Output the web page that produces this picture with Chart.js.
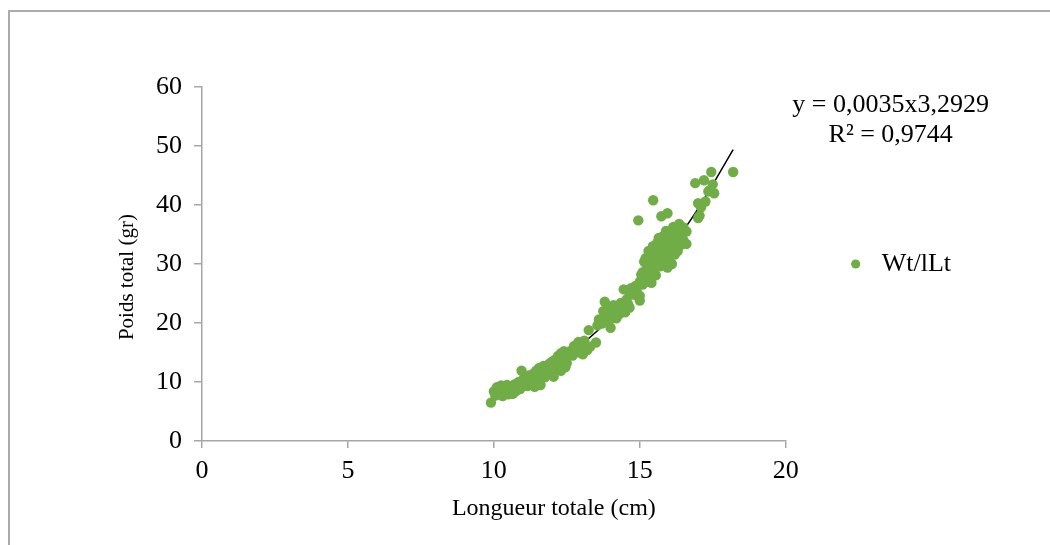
<!DOCTYPE html>
<html>
<head>
<meta charset="utf-8">
<script src="https://cdn.jsdelivr.net/npm/chart.js@4.4.1/dist/chart.umd.min.js"></script>
<style>
  body { margin: 0; background: #fff; }
  #wrap { position: relative; width: 1050px; height: 545px; overflow: hidden; }
  #frame { position: absolute; left: 8px; top: 10px; width: 1100px; height: 600px;
           border-top: 2px solid #ababab; border-left: 2px solid #ababab; }
  canvas { position: absolute; left: 0; top: 0; }
</style>
</head>
<body>
<div id="wrap">
  <div id="frame"></div>
  <canvas id="myChart" width="1050" height="545"></canvas>
</div>
<script>
// longueur totale (cm)
var lt = [
  9.9, 10.0, 10.05, 10.1, 10.15, 10.2, 10.25, 10.3, 10.35, 10.4, 10.45, 10.5, 10.55, 10.6, 10.65, 10.7, 10.75, 10.8, 10.85, 10.9, 10.95, 11.0, 11.0,
  11.05, 11.1, 11.15, 11.2, 11.25, 11.3, 11.35, 11.4, 11.4, 11.45, 11.5, 11.55, 11.6, 11.6, 11.65, 11.7, 11.75, 11.8, 11.85, 11.9, 11.95, 12.0, 12.0, 12.05, 12.1, 12.15, 12.2, 12.25, 12.3, 12.3, 12.35, 12.4, 12.45, 12.5, 12.5,
  12.6, 12.7, 12.75, 12.8, 12.9, 12.95, 13.0, 13.05, 13.1, 13.2, 13.25, 13.3, 13.5, 13.55, 13.6, 13.7, 13.75, 13.8, 13.85, 13.9, 13.95, 14.0, 14.05, 14.1, 14.15,
  14.2, 14.25, 14.3, 14.35, 14.4, 14.45, 14.5, 14.55, 14.6, 14.6, 14.65, 14.7, 14.8, 14.85, 14.9, 14.95, 15.0, 15.0, 15.0, 15.05,
  15.1, 15.1, 15.15, 15.2, 15.2, 15.25, 15.3, 15.3, 15.35, 15.4, 15.4, 15.45, 15.46, 15.5, 15.5, 15.55, 15.6, 15.6, 15.65, 15.7, 15.7, 15.74, 15.75, 15.8, 15.8, 15.85, 15.9, 15.9, 15.95, 15.95,
  16.0, 16.0, 16.05, 16.1, 16.1, 16.15, 16.2, 16.2, 16.25, 16.3, 16.3, 16.35, 16.4, 16.45, 16.5, 16.5,
  16.6, 16.6, 16.9, 17.0, 17.0, 17.05, 17.1, 17.2, 17.25, 17.35, 17.4, 17.45, 17.5, 17.55, 18.2
];
// poids total (gr)
var wt = [
  6.5, 8.4, 7.7, 9.1, 8.0, 8.7, 9.4, 7.6, 8.9, 8.2, 9.5, 7.9, 8.6, 9.2, 8.0, 9.6, 8.4, 9.1, 10.0, 8.8, 11.9, 9.4, 10.4,
  9.6, 10.8, 9.3, 11.1, 10.0, 9.5, 11.4, 10.3, 9.2, 11.9, 10.1, 12.4, 10.7, 9.5, 11.5, 12.7, 10.8, 12.3, 11.3, 13.1, 11.6, 13.5, 12.0, 10.9, 13.8, 12.3, 14.4, 13.0, 11.9, 14.9, 13.6, 15.2, 12.5, 14.3, 13.2,
  15.2, 14.5, 16.1, 15.5, 16.8, 15.0, 16.3, 14.7, 17.0, 15.4, 18.8, 16.0, 16.7, 19.6, 20.6, 19.9, 22.0, 23.6, 21.1, 22.6, 20.4, 19.2, 21.8, 23.0, 22.4,
  20.8, 22.1, 21.5, 23.4, 22.7, 25.7, 21.8, 24.0, 23.2, 25.5, 22.6, 25.9, 24.8, 26.3, 25.3, 37.4, 23.8, 24.6, 27.0, 28.2,
  26.5, 28.6, 30.4, 27.3, 31.0, 29.6, 27.0, 32.2, 28.4, 30.6, 26.8, 33.0, 40.8, 29.2, 31.5, 28.1, 33.6, 30.3, 34.4, 32.3, 29.6, 38.1, 31.4, 34.7, 33.0, 30.5, 35.6, 32.5, 38.6, 29.4,
  34.0, 31.2, 35.2, 32.8, 30.0, 36.3, 33.6, 31.6, 35.0, 32.2, 34.4, 36.8, 33.2, 35.6, 34.0, 36.2,
  35.5, 33.4, 43.7, 40.3, 37.8, 38.2, 39.6, 44.2, 40.6, 42.3, 42.5, 45.6, 43.5, 42.0, 45.6
];
// courbe de tendance
var trendX = [9.9, 11, 12, 13, 14, 15, 16, 17, 18.2];
var trendY = [6.6, 9.4, 12.5, 16.3, 20.8, 26.1, 32.3, 39.4, 49.4];

var xTicks = [0, 5, 10, 15, 20];
var yTicks = [0, 10, 20, 30, 40, 50, 60];
var equation = ["y = 0,0035x3,2929", "R\u00b2 = 0,9744"];

var points = lt.map(function(x, i){ return {x: x, y: wt[i]}; });
var trend = trendX.map(function(x, i){ return {x: x, y: trendY[i]}; });

Chart.defaults.font.family = "'Liberation Serif', 'Times New Roman', serif";
Chart.defaults.color = "#000";

var eqPlugin = {
    id: "eqLabel",
    afterDraw: function(chart){
        var ctx = chart.ctx;
        var a = chart.chartArea;
        ctx.save();
        ctx.font = "26px 'Liberation Serif'";
        ctx.fillStyle = "#000";
        ctx.textAlign = "center";
        ctx.textBaseline = "middle";
        ctx.fillText(equation[0], a.right + 105, a.top + 18);
        ctx.fillText(equation[1], a.right + 105, a.top + 48);
        ctx.restore();
    }
};

var ctx = document.getElementById("myChart");

var myChart = new Chart(ctx, {
    type: "scatter",
    data: {
        datasets: [{
            label: "Wt/lLt",
            data: points,
            backgroundColor: "#70AD47",
            borderColor: "#70AD47",
            pointRadius: 5.2,
            pointBorderWidth: 0
        }, {
            label: "trend",
            type: "line",
            data: trend,
            showLine: true,
            borderColor: "#000",
            borderWidth: 1.5,
            pointRadius: 0,
            cubicInterpolationMode: "monotone",
            fill: false
        }]
    },
    options: {
        responsive: false,
        animation: false,
        layout: { padding: { left: 100, right: 89, top: 87, bottom: 10 } },
        plugins: {
            tooltip: { enabled: false },
            legend: {
                position: "right",
                fullSize: false,
                labels: {
                    usePointStyle: true,
                    pointStyle: "circle",
                    boxWidth: 26,
                    boxHeight: 6.5,
                    padding: 57,
                    font: { size: 26 },
                    color: "#000",
                    filter: function(item){ return item.datasetIndex === 0; }
                }
            }
        },
        scales: {
            x: {
                type: "linear",
                min: 0, max: 20,
                afterBuildTicks: function(scale){ scale.ticks = xTicks.map(function(v){ return {value: v}; }); },
                afterFit: function(scale){ scale.height = 94; },
                border: { color: "#a6a6a6", width: 1.5 },
                grid: { drawOnChartArea: false, tickLength: 7, color: "#a6a6a6", lineWidth: 1.5 },
                ticks: { font: { size: 26 }, padding: 8, color: "#000" },
                title: {
                    display: true,
                    text: " ".repeat(20) + "Longueur totale (cm)",
                    font: { size: 24 },
                    padding: { top: 0, bottom: 12 },
                    color: "#000"
                }
            },
            y: {
                type: "linear",
                min: 0, max: 60,
                afterBuildTicks: function(scale){ scale.ticks = yTicks.map(function(v){ return {value: v}; }); },
                afterFit: function(scale){ scale.width = 102; },
                border: { color: "#a6a6a6", width: 1.5 },
                grid: { drawOnChartArea: false, tickLength: 8, color: "#a6a6a6", lineWidth: 1.5 },
                ticks: { font: { size: 26 }, padding: 12, color: "#000" },
                title: {
                    display: true,
                    text: "Poids total (gr)" + " ".repeat(5),
                    font: { size: 21 },
                    padding: { top: 15, bottom: 0 },
                    color: "#000"
                }
            }
        }
    },
    plugins: [eqPlugin]
});
</script>
</body>
</html>
